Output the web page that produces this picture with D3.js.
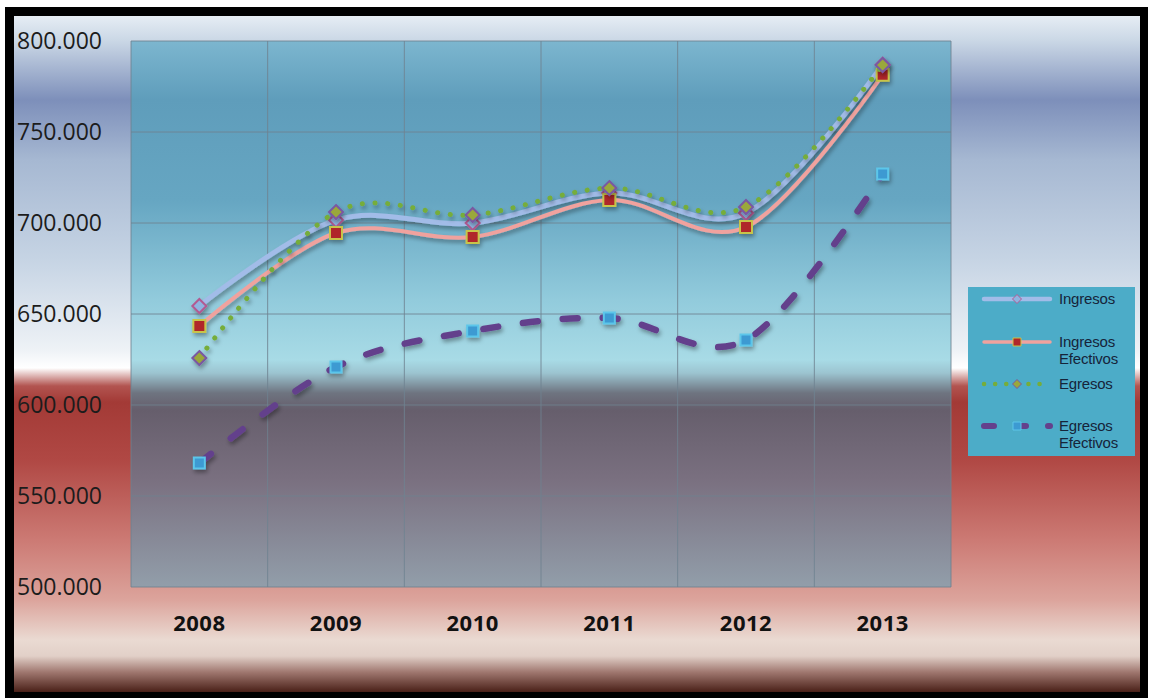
<!DOCTYPE html>
<html><head><meta charset="utf-8">
<script src="https://cdn.jsdelivr.net/npm/d3@7"></script>
<style>html,body{margin:0;padding:0;background:#fff;}svg{display:block;}</style>
</head><body>
<script>
const years = ["2008","2009","2010","2011","2012","2013"];
const ingresos = [654.4, 701.6, 700.0, 716.5, 705.5, 787.0];
const ingresosEfectivos = [643.4, 694.5, 692.3, 712.6, 697.8, 781.5];
const egresos = [625.8, 706.0, 704.4, 719.2, 708.8, 786.8];
const egresosEfectivos = [568.1, 620.9, 640.7, 647.8, 635.7, 726.9];
const yTicks = [500, 550, 600, 650, 700, 750, 800];
const seriesNames = ["Ingresos", "Ingresos Efectivos", "Egresos", "Egresos Efectivos"];

const W = 1150, H = 698;
const svg = d3.select("body").append("svg").attr("width", W).attr("height", H);
const defs = svg.append("defs");

function grad(id, stops, x1, y1, x2, y2) {
  const g = defs.append("linearGradient").attr("id", id)
    .attr("gradientUnits", "userSpaceOnUse")
    .attr("x1", x1).attr("y1", y1).attr("x2", x2).attr("y2", y2);
  stops.forEach(s => g.append("stop").attr("offset", s[0]).attr("stop-color", s[1]));
}
// outer background
const oT = 16, oB = 692;
const of = y => (y - oT) / (oB - oT);
grad("bgOuter", [
  [0, "#e6edf4"], [of(40), "#cbd8e6"], [of(100), "#7d8fba"], [of(160), "#a6b8d2"],
  [of(260), "#c6d4e4"], [of(350), "#eef2f6"], [of(368), "#ffffff"], [of(386), "#b25450"],
  [of(402), "#a33a36"], [of(460), "#b04844"], [of(540), "#cc7a74"], [of(600), "#dca49c"],
  [of(640), "#eadad2"], [of(656), "#e2d0c8"], [of(672), "#a07870"], [1, "#4a2018"]
], 0, oT, 0, oB);

const pL = 131, pR = 951;
const y = d3.scaleLinear().domain([500, 800]).range([587, 41]);
const pT = y(800), pB = y(500);
const pf = v => (v - pT) / (pB - pT);
grad("bgPlot", [
  [0, "#7cb6cf"], [pf(100), "#5f9dbb"], [pf(200), "#66a6c2"], [pf(300), "#92cbdc"],
  [pf(360), "#a8dbe6"], [pf(373), "#9cc4d0"], [pf(393), "#6e7480"], [pf(410), "#665e6c"],
  [pf(480), "#7a7080"], [1, "#929eaa"]
], 0, pT, 0, pB);

const flt = defs.append("filter").attr("id", "shadow")
  .attr("x", "-10%").attr("y", "-10%").attr("width", "120%").attr("height", "130%");
flt.append("feDropShadow").attr("dx", 1.5).attr("dy", 3).attr("stdDeviation", 2)
  .attr("flood-color", "#000").attr("flood-opacity", 0.35);

// frame
svg.append("rect").attr("x", 5).attr("y", 7).attr("width", 1143).attr("height", 691).attr("fill", "#000");
svg.append("rect").attr("x", 14).attr("y", oT).attr("width", 1126).attr("height", oB - oT).attr("fill", "url(#bgOuter)");

// plot area
svg.append("rect").attr("x", pL).attr("y", pT).attr("width", pR - pL).attr("height", pB - pT).attr("fill", "url(#bgPlot)");

const x = d3.scaleBand().domain(years).range([pL, pR]).padding(0);
const cx = d => x(d) + x.bandwidth() / 2;

// gridlines
const grid = svg.append("g");
grid.selectAll("line.h").data(yTicks).join("line")
  .attr("x1", pL).attr("x2", pR).attr("y1", d => y(d)).attr("y2", d => y(d))
  .attr("stroke", "#6f8290").attr("stroke-opacity", 0.85).attr("stroke-width", 1);
grid.selectAll("line.v").data(years.concat(["end"])).join("line")
  .attr("x1", (d, i) => i < years.length ? x(d) : pR)
  .attr("x2", (d, i) => i < years.length ? x(d) : pR)
  .attr("y1", pT).attr("y2", pB)
  .attr("stroke", "#6f8290").attr("stroke-opacity", 0.85).attr("stroke-width", 1);

// y axis labels
const yAxis = d3.axisLeft(y).tickValues(yTicks).tickSize(0)
  .tickFormat(d => d3.format(".3f")(d));
const gy = svg.append("g").attr("transform", "translate(17,0)").call(yAxis);
gy.select(".domain").remove();
gy.selectAll("text").attr("text-anchor", "start").attr("x", 0).attr("dy", "0.34em")
  .style("font-family", "'Open Sans', 'Noto Sans', sans-serif").style("font-size", "23px")
  .attr("fill", "#1c1c1c");

// x axis labels
const xAxis = d3.axisBottom(x).tickSize(0);
const gx = svg.append("g").attr("transform", `translate(0,${pB})`).call(xAxis);
gx.select(".domain").remove();
gx.selectAll("text").attr("dy", "0").attr("y", 44)
  .style("font-family", "'Open Sans', 'Noto Sans', sans-serif").style("font-size", "22px")
  .style("letter-spacing", "0.5px")
  .style("font-weight", "bold").attr("fill", "#111");

const line = d3.line().x((d, i) => cx(years[i])).y(d => y(d)).curve(d3.curveCardinal.tension(0));

const styles = [
  {data: ingresos, stroke: "#a2bce8", w: 5, dash: null, cap: "round",
   marker: "diamond", mFill: "#8fb4e0", mStroke: "#b25a92", mSize: 7},
  {data: ingresosEfectivos, stroke: "#f0a29e", w: 4, dash: null, cap: "round",
   marker: "square", mFill: "#b0282a", mStroke: "#c8c448", mSize: 6},
  {data: egresos, stroke: "#76ad3a", w: 5, dash: "0.1,12.6", cap: "round",
   marker: "diamond", mFill: "#9aa83a", mStroke: "#7a58a2", mSize: 7},
  {data: egresosEfectivos, stroke: "#64418c", w: 6.5, dash: "15,25", cap: "round",
   marker: "square", mFill: "#3c9ad2", mStroke: "#5cc6ea", mSize: 5.5}
];

function markerPath(type, s) {
  if (type === "diamond") return `M0,${-s}L${s},0L0,${s}L${-s},0Z`;
  return `M${-s},${-s}H${s}V${s}H${-s}Z`;
}

styles.forEach(st => {
  const g = svg.append("g").attr("filter", "url(#shadow)");
  g.append("path").datum(st.data).attr("d", line)
    .attr("fill", "none").attr("stroke", st.stroke).attr("stroke-width", st.w)
    .attr("stroke-linecap", st.cap).attr("stroke-linejoin", "round")
    .attr("stroke-dasharray", st.dash);
  g.selectAll("path.m").data(st.data).join("path").attr("class", "m")
    .attr("transform", (d, i) => `translate(${cx(years[i])},${y(d)})`)
    .attr("d", markerPath(st.marker, st.mSize))
    .attr("fill", st.mFill).attr("stroke", st.mStroke).attr("stroke-width", 2);
});

// legend
const lg = svg.append("g");
lg.append("rect").attr("x", 968).attr("y", 287).attr("width", 167).attr("height", 169)
  .attr("fill", "#4cacc8");
const legY = [299, 342, 384, 426];
const legendLabels = [["Ingresos"], ["Ingresos", "Efectivos"], ["Egresos"], ["Egresos", "Efectivos"]];
styles.forEach((st, i) => {
  const yy = legY[i];
  lg.append("line").attr("x1", 984).attr("x2", 1050).attr("y1", yy).attr("y2", yy)
    .attr("stroke", st.stroke).attr("stroke-width", st.w - 0.5)
    .attr("stroke-linecap", "round").attr("stroke-dasharray", i === 2 ? "0.1,11" : (i === 3 ? "10,22" : null));
  lg.append("path").attr("transform", `translate(1017,${yy})`)
    .attr("d", markerPath(st.marker, st.marker === "diamond" ? 4.5 : 4))
    .attr("fill", st.mFill).attr("stroke", st.mStroke).attr("stroke-width", 1);
  legendLabels[i].forEach((t, j) => {
    lg.append("text").attr("x", 1059).attr("y", yy + j * 17).attr("dy", "0.35em")
      .style("font-family", "'Liberation Sans', Arial, sans-serif").style("font-size", "15px")
      .style("letter-spacing", "-0.2px")
      .attr("fill", "#16243a").text(t);
  });
});
</script>
</body></html>
